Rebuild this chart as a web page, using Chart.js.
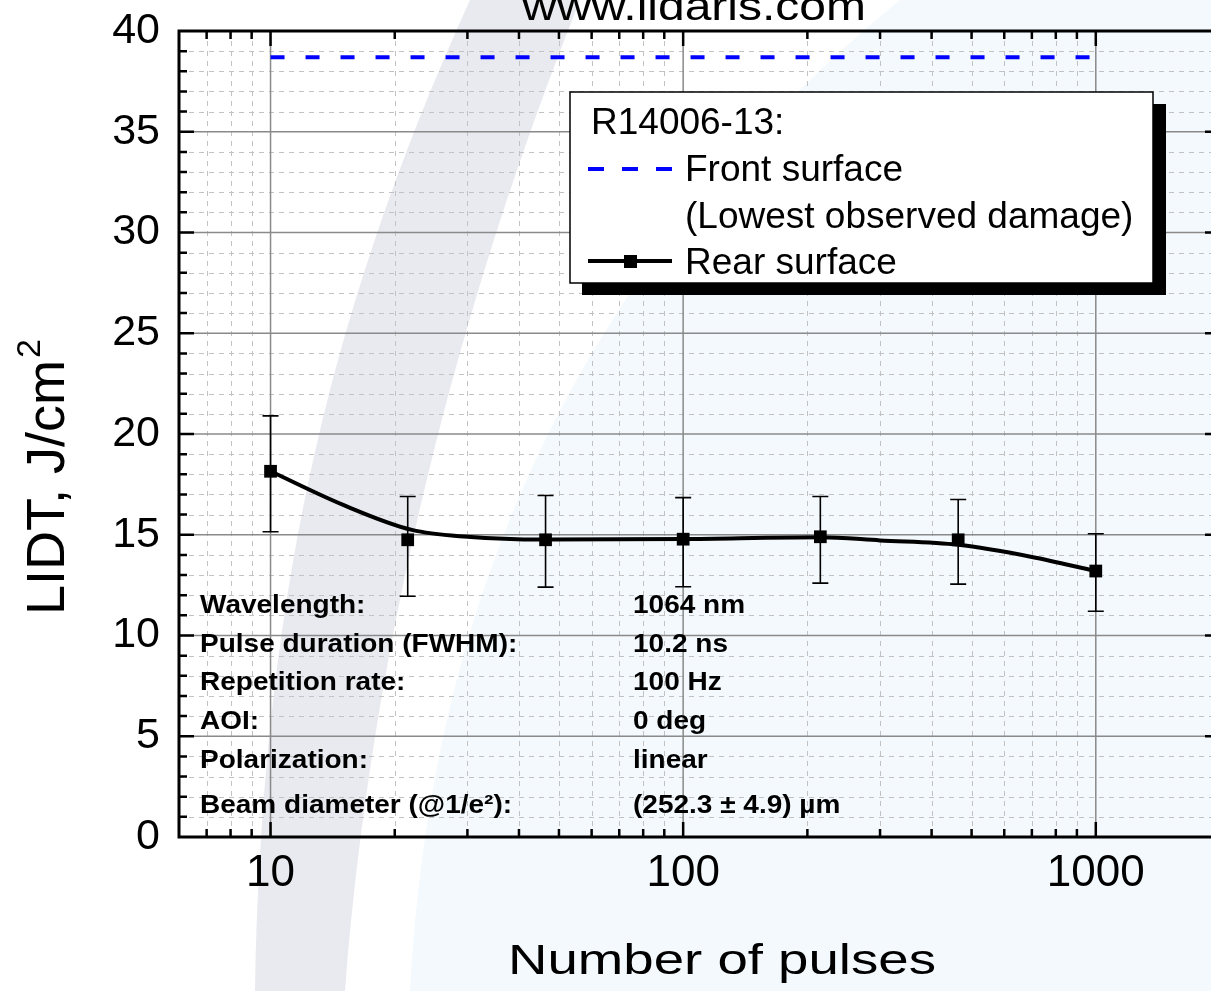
<!DOCTYPE html>
<html>
<head>
<meta charset="utf-8">
<script src="https://cdn.jsdelivr.net/npm/chart.js@4.4.0/dist/chart.umd.min.js"></script>
<style>
  html, body { margin: 0; padding: 0; overflow: hidden; background: #fff; }
  #wrap { position: absolute; left: 0; top: 0; width: 1230px; height: 991px; }
</style>
</head>
<body>
<div id="wrap"><canvas id="c" width="1230" height="991"></canvas></div>
<script>
// measured data (rear surface, 1-on-1 steps of 1/3 decade)
const pulses    = [10, 21.5, 46.4, 100, 215, 464, 1000];
const lidtRear  = [18.15, 14.75, 14.75, 14.78, 14.9, 14.75, 13.2];
const errLower  = [15.15, 11.95, 12.4, 12.42, 12.6, 12.55, 11.2];
const errUpper  = [20.9, 16.9, 16.95, 16.84, 16.9, 16.75, 15.05];
// smoothed curve
const fitPulses = [10, 15, 22, 30, 46, 100, 215, 300, 464, 700, 1000];
const fitLidt   = [18.15, 16.48, 15.24, 14.9, 14.76, 14.79, 14.88, 14.72, 14.5, 13.9, 13.2];
// front surface: lowest observed damage
const frontPulses = [10, 1000];
const frontLidt   = [38.7, 38.7];

const xTicks = [10, 100, 1000];
const yTicks = [0, 5, 10, 15, 20, 25, 30, 35, 40];

const infoLabels = ['Wavelength:', 'Pulse duration (FWHM):', 'Repetition rate:', 'AOI:', 'Polarization:', 'Beam diameter (@1/e\u00B2):'];
const infoValues = ['1064 nm', '10.2 ns', '100 Hz', '0 deg', 'linear', '(252.3 \u00B1 4.9) \u00B5m'];

const FONT = "'Liberation Sans', Arial, sans-serif";

function minorX(min, max) {
  const out = [];
  for (let n = 0; n <= 3; n++) for (let k = 2; k <= 9; k++) {
    const v = k * Math.pow(10, n);
    if (v > min && v < max) out.push(v);
  }
  return out;
}

function stretchText(ctx, text, x, y, sx, align) {
  ctx.save();
  ctx.translate(x, y);
  ctx.scale(sx, 1);
  ctx.textAlign = align || 'left';
  ctx.fillText(text, 0, 0);
  ctx.restore();
}

const decor = {
  id: 'decor',
  beforeDraw(chart) {
    const ctx = chart.ctx;
    ctx.save();
    ctx.fillStyle = '#fff';
    ctx.fillRect(0, 0, chart.width, chart.height);
    // faint logo watermark
    ctx.fillStyle = '#f3f9fd';
    ctx.beginPath();
    ctx.moveTo(410, 991);
    ctx.bezierCurveTo(430, 620, 560, 280, 900, 0);
    ctx.lineTo(1230, 0); ctx.lineTo(1230, 991);
    ctx.closePath(); ctx.fill();
    ctx.fillStyle = '#e9e9f0';
    ctx.beginPath();
    ctx.moveTo(255, 991);
    ctx.bezierCurveTo(262, 620, 320, 330, 470, 0);
    ctx.lineTo(580, 0);
    ctx.bezierCurveTo(460, 300, 372, 640, 345, 991);
    ctx.closePath(); ctx.fill();
    ctx.restore();
  },
  beforeDatasetsDraw(chart) {
    const { ctx, chartArea: a, scales: { x, y } } = chart;
    ctx.save();
    ctx.beginPath();
    ctx.rect(a.left, a.top, a.right - a.left, a.bottom - a.top);
    ctx.clip();
    // minor grid
    ctx.strokeStyle = '#c2c2c2'; ctx.lineWidth = 1; ctx.setLineDash([5, 5]);
    ctx.beginPath();
    for (let v = 1; v < 40; v++) {
      if (v % 5 === 0) continue;
      const py = Math.round(y.getPixelForValue(v)) + 0.5;
      ctx.moveTo(a.left, py); ctx.lineTo(a.right, py);
    }
    minorX(x.min, x.max).forEach(v => {
      const px = Math.round(x.getPixelForValue(v)) + 0.5;
      ctx.moveTo(px, a.top); ctx.lineTo(px, a.bottom);
    });
    ctx.stroke();
    // major grid
    ctx.setLineDash([]);
    ctx.strokeStyle = '#8a8a8a'; ctx.lineWidth = 1.5;
    ctx.beginPath();
    yTicks.forEach(v => {
      const py = y.getPixelForValue(v);
      ctx.moveTo(a.left, py); ctx.lineTo(a.right, py);
    });
    xTicks.forEach(v => {
      const px = x.getPixelForValue(v);
      ctx.moveTo(px, a.top); ctx.lineTo(px, a.bottom);
    });
    ctx.stroke();
    // error bars
    ctx.strokeStyle = '#000'; ctx.lineWidth = 1.6;
    ctx.beginPath();
    pulses.forEach((p, i) => {
      const px = x.getPixelForValue(p);
      const t = y.getPixelForValue(errUpper[i]);
      const b = y.getPixelForValue(errLower[i]);
      ctx.moveTo(px, t); ctx.lineTo(px, b);
      ctx.moveTo(px - 8, t); ctx.lineTo(px + 8, t);
      ctx.moveTo(px - 8, b); ctx.lineTo(px + 8, b);
    });
    ctx.stroke();
    ctx.restore();
  },
  afterDatasetsDraw(chart) {
    const { ctx, chartArea: a, scales: { x, y } } = chart;
    ctx.save();
    // frame and inward ticks
    ctx.strokeStyle = '#000'; ctx.lineWidth = 3;
    ctx.strokeRect(a.left, a.top, a.right - a.left, a.bottom - a.top);
    ctx.lineWidth = 2.5;
    ctx.beginPath();
    for (let v = 1; v < 40; v++) {
      const py = y.getPixelForValue(v);
      const len = v % 5 === 0 ? 15 : 8;
      ctx.moveTo(a.left, py); ctx.lineTo(a.left + len, py);
      ctx.moveTo(a.right, py); ctx.lineTo(a.right - len, py);
    }
    const xs = xTicks.map(v => [v, 15]).concat(minorX(x.min, x.max).map(v => [v, 8]));
    xs.forEach(([v, len]) => {
      const px = x.getPixelForValue(v);
      ctx.moveTo(px, a.top); ctx.lineTo(px, a.top + len);
      ctx.moveTo(px, a.bottom); ctx.lineTo(px, a.bottom - len);
    });
    ctx.stroke();

    // test conditions
    ctx.fillStyle = '#000';
    ctx.textBaseline = 'alphabetic';
    ctx.font = 'bold 25px ' + FONT;
    const rows = [613, 652, 690, 729, 768, 813];
    infoLabels.forEach((t, i) => stretchText(ctx, t, 200, rows[i], 1.12));
    infoValues.forEach((t, i) => stretchText(ctx, t, 633, rows[i], 1.12));
    ctx.restore();
  },
  afterDraw(chart) {
    const ctx = chart.ctx;
    ctx.save();
    ctx.fillStyle = '#000';
    // site title (cut at top edge)
    ctx.font = '40px ' + FONT;
    stretchText(ctx, 'www.lidaris.com', 694, 20, 1.2, 'center');
    // axis titles
    ctx.font = '42px ' + FONT;
    stretchText(ctx, 'Number of pulses', 722, 974, 1.3, 'center');
    ctx.save();
    ctx.translate(64, 615);
    ctx.rotate(-Math.PI / 2);
    ctx.font = '54px ' + FONT;
    ctx.textAlign = 'left';
    const base = 'LIDT, J/cm';
    ctx.fillText(base, 0, 0);
    const w = ctx.measureText(base).width;
    ctx.font = '34px ' + FONT;
    ctx.fillText('2', w + 2, -24);
    ctx.restore();

    // legend box with shadow
    ctx.fillStyle = '#000';
    ctx.fillRect(582, 104, 584, 191);
    ctx.fillStyle = '#fff';
    ctx.fillRect(570, 92, 583, 191);
    ctx.strokeStyle = '#000'; ctx.lineWidth = 1.5;
    ctx.strokeRect(570, 92, 583, 191);
    ctx.fillStyle = '#000';
    ctx.font = '37px ' + FONT;
    ctx.textAlign = 'left';
    ctx.fillText('R14006-13:', 591, 134);
    ctx.fillText('Front surface', 685, 181);
    ctx.fillText('(Lowest observed damage)', 685, 228);
    ctx.fillText('Rear surface', 685, 274);
    ctx.strokeStyle = '#0000ff'; ctx.lineWidth = 4;
    ctx.setLineDash([16, 18]);
    ctx.beginPath(); ctx.moveTo(588, 169); ctx.lineTo(672, 169); ctx.stroke();
    ctx.setLineDash([]);
    ctx.strokeStyle = '#000';
    ctx.beginPath(); ctx.moveTo(588, 261); ctx.lineTo(672, 261); ctx.stroke();
    ctx.fillRect(624, 255, 13, 13);
    ctx.restore();
  }
};

new Chart(document.getElementById('c'), {
  type: 'line',
  data: {
    datasets: [
      {
        label: 'Rear surface',
        data: pulses.map((p, i) => ({ x: p, y: lidtRear[i] })),
        showLine: false,
        pointStyle: 'rect',
        pointRadius: 9,
        pointBorderWidth: 0,
        pointBackgroundColor: '#000',
        borderColor: '#000'
      },
      {
        label: 'Rear fit',
        data: fitPulses.map((p, i) => ({ x: p, y: fitLidt[i] })),
        borderColor: '#000',
        borderWidth: 4,
        pointRadius: 0,
        cubicInterpolationMode: 'monotone'
      },
      {
        label: 'Front surface',
        data: frontPulses.map((p, i) => ({ x: p, y: frontLidt[i] })),
        borderColor: '#0000ff',
        borderWidth: 4,
        borderDash: [14, 21],
        pointRadius: 0
      }
    ]
  },
  options: {
    responsive: false,
    animation: false,
    events: [],
    layout: { padding: { top: 31, right: 10, left: 0, bottom: 0 } },
    plugins: { legend: { display: false }, tooltip: { enabled: false } },
    scales: {
      x: {
        type: 'logarithmic', min: 6, max: 2000,
        afterBuildTicks: s => { s.ticks = xTicks.map(v => ({ value: v })); },
        afterFit: s => { s.height = 154; s.paddingLeft = 0; s.paddingRight = 0; },
        grid: { display: false, drawTicks: false },
        border: { display: false },
        ticks: {
          autoSkip: false, maxRotation: 0, padding: 10, color: '#000',
          font: { family: FONT, size: 44 },
          callback: v => String(v)
        }
      },
      y: {
        min: 0, max: 40,
        afterBuildTicks: s => { s.ticks = yTicks.map(v => ({ value: v })); },
        afterFit: s => { s.width = 179; s.paddingTop = 0; s.paddingBottom = 0; },
        grid: { display: false, drawTicks: false },
        border: { display: false },
        ticks: { padding: 19, color: '#000', font: { family: FONT, size: 43 } }
      }
    }
  },
  plugins: [decor]
});
</script>
</body>
</html>
